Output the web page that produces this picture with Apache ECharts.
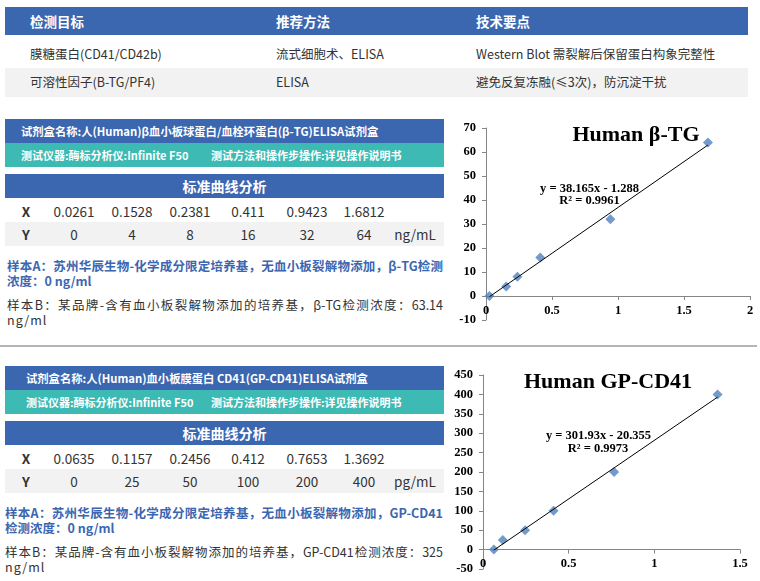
<!DOCTYPE html>
<html>
<head>
<meta charset="utf-8">
<script src="https://cdn.jsdelivr.net/npm/echarts@6/dist/echarts.min.js"></script>
<style>
  body { margin: 0; width: 760px; height: 581px; position: relative; overflow: hidden; background: #fff;
         font-family: "Noto Sans CJK SC", "Noto Sans", sans-serif; color: #333; }
  .abs { position: absolute; white-space: nowrap; }
  .cell { position: absolute; transform: translateX(-50%); white-space: nowrap; font-size: 13.5px; color: #333; }
  .line { position: absolute; white-space: nowrap; text-align: justify; text-align-last: justify; }
  #chart { position: absolute; left: 440px; top: 110px; width: 320px; height: 471px; }
</style>
</head>
<body>
<div id="page"></div>
<div id="chart"></div>
<script>
// 顶部表格
var topHead = ['检测目标', '推荐方法', '技术要点'];
var topRows = [
    ['膜糖蛋白(CD41/CD42b)', '流式细胞术、ELISA', 'Western Blot 需裂解后保留蛋白构象完整性'],
    ['可溶性因子(B-TG/PF4)', 'ELISA', '避免反复冻融(≤3次)，防沉淀干扰']
];

// β-TG 标准曲线
var tgX = [0.0261, 0.1528, 0.2381, 0.411, 0.9423, 1.6812];
var tgY = [0, 4, 8, 16, 32, 64];
var tgFit = [[0.0261, -0.3], [1.6812, 62.9]];   // 趋势线两端
var tgEq = ['y = 38.165x - 1.288', 'R² = 0.9961'];

// GP-CD41 标准曲线
var cdX = [0.0635, 0.1157, 0.2456, 0.412, 0.7653, 1.3692];
var cdY = [0, 25, 50, 100, 200, 400];
var cdFit = [[0.0635, -1.2], [1.3692, 393]];
var cdEq = ['y = 301.93x - 20.355', 'R² = 0.9973'];

var tgTicksY = {min: -10, max: 70, interval: 10};
var cdTicksY = {min: -50, max: 450, interval: 50};

var blue = '#3b66b0', teal = '#3dbab3', grey = '#f2f2f2';
var page = document.getElementById('page');
var html = '';

function box(l, t, w, h, bg) {
    return '<div class="abs" style="left:' + l + 'px;top:' + t + 'px;width:' + w + 'px;height:' + h + 'px;background:' + bg + '"></div>';
}
function text(l, cy, s, style) {
    return '<div class="abs" style="left:' + l + 'px;top:' + (cy - 10) + 'px;line-height:20px;' + (style || '') + '">' + s + '</div>';
}

// 顶部表格
var topCols = [30, 276, 476];
html += box(5, 7, 743, 28, blue);
topHead.forEach(function (h, i) {
    html += text(topCols[i], 21, h, 'color:#fff;font-weight:bold;font-size:13.5px');
});
html += box(5, 68, 743, 29, grey);
topRows.forEach(function (row, r) {
    row.forEach(function (c, i) {
        html += text(topCols[i], r === 0 ? 54 : 82, c, 'font-size:12.5px;color:#333');
    });
});

// 分隔线
html += box(0, 345, 757, 2, '#b5b5b5');

var colX = [26, 74, 132, 190, 248, 307, 364, 415];

function panel(top, left, tx, kit, xs, ys, unit, sampleA, sampleB) {
    var s = '';
    s += box(5, top, 439, 24, blue);
    s += text(tx, top + 12, kit, 'color:#fff;font-weight:bold;font-size:11.3px');
    s += box(5, top + 24, 439, 24, teal);
    s += text(tx, top + 36, '测试仪器:酶标分析仪:Infinite F50', 'color:#fff;font-weight:bold;font-size:11px');
    s += text(211, top + 36, '测试方法和操作步操作:详见操作说明书', 'color:#fff;font-weight:bold;font-size:11px');
    s += box(5, top + 55, 439, 24, blue);
    s += '<div class="abs" style="left:5px;width:439px;text-align:center;top:' + (top + 57) + 'px;line-height:20px;color:#fff;font-weight:bold;font-size:14px">标准曲线分析</div>';
    s += box(5, top + 103, 439, 24, grey);
    var rx = ['X'].concat(xs.map(String)).concat(['']);
    var ry = ['Y'].concat(ys.map(String)).concat([unit]);
    rx.forEach(function (v, i) {
        s += '<div class="cell" style="left:' + colX[i] + 'px;top:' + (top + 82) + 'px;line-height:20px;' + (i === 0 ? 'font-weight:bold' : '') + '">' + v + '</div>';
    });
    ry.forEach(function (v, i) {
        s += '<div class="cell" style="left:' + colX[i] + 'px;top:' + (top + 105) + 'px;line-height:20px;' + (i === 0 ? 'font-weight:bold' : '') + '">' + v + '</div>';
    });
    var aStyle = 'color:' + blue + ';font-weight:bold;font-size:12.5px;';
    var bStyle = 'color:#333;font-size:12.5px;';
    s += '<div class="line" style="left:' + left + 'px;width:' + (443 - left) + 'px;top:' + (top + 139) + 'px;line-height:16px;' + aStyle + '">' + sampleA[0] + '</div>';
    s += '<div class="abs" style="left:' + left + 'px;top:' + (top + 154) + 'px;line-height:16px;' + aStyle + '">' + sampleA[1] + '</div>';
    s += '<div class="line" style="left:' + left + 'px;width:' + (443 - left) + 'px;top:' + (top + 178) + 'px;line-height:16px;' + bStyle + '">' + sampleB[0] + '</div>';
    s += '<div class="abs" style="left:' + left + 'px;top:' + (top + 193) + 'px;line-height:16px;' + bStyle + 'letter-spacing:1px">' + sampleB[1] + '</div>';
    return s;
}

html += panel(119, 7, 21, '试剂盒名称:人(Human)β血小板球蛋白/血栓环蛋白(β-TG)ELISA试剂盒', tgX, tgY, 'ng/mL',
    ['样本A：苏州华辰生物-化学成分限定培养基，无血小板裂解物添加，β-TG检测', '浓度：0 ng/ml'],
    ['样本B：某品牌-含有血小板裂解物添加的培养基，β-TG检测浓度：63.14', 'ng/ml']);
html += panel(366, 5, 26, '试剂盒名称:人(Human)血小板膜蛋白 CD41(GP-CD41)ELISA试剂盒', cdX, cdY, 'pg/mL',
    ['样本A：苏州华辰生物-化学成分限定培养基，无血小板裂解物添加，GP-CD41', '检测浓度：0 ng/ml'],
    ['样本B：某品牌-含有血小板裂解物添加的培养基，GP-CD41检测浓度：325', 'ng/ml']);
page.innerHTML = html;

// 图表
var serif = 'Liberation Serif';
var axisLabel = {color: '#000', fontFamily: serif, fontWeight: 'bold', fontSize: 12.5};
var lineStyle = {color: '#868686', width: 1};
var axisTick = {show: true, length: 4, lineStyle: {color: '#868686'}};

var grids = [
    {left: 46, top: 18, width: 264, height: 192},
    {left: 43, top: 265, width: 257, height: 194}
];

function pairs(xs, ys) {
    return xs.map(function (x, i) { return [x, ys[i]]; });
}
// x 轴放在 y=0 处（含刻度标签），用 offset 上移
function xAxis(idx, max, t) {
    var shift = grids[idx].height * (0 - t.min) / (t.max - t.min);
    return {
        type: 'value', gridIndex: idx, min: 0, max: max, interval: 0.5,
        position: 'bottom', offset: -shift,
        axisLine: {show: true, onZero: false, lineStyle: lineStyle},
        axisTick: axisTick, splitLine: {show: false},
        axisLabel: Object.assign({margin: 8}, axisLabel)
    };
}
function yAxis(idx, t) {
    return {
        type: 'value', gridIndex: idx, min: t.min, max: t.max, interval: t.interval,
        axisLine: {show: true, onZero: false, lineStyle: lineStyle},
        axisTick: axisTick, splitLine: {show: false},
        axisLabel: Object.assign({margin: 10}, axisLabel)
    };
}
function eqText(x, y, s) {
    return {
        type: 'text', x: x, y: y,
        style: {text: s, fill: '#000', font: 'bold 12.5px "Liberation Serif"', textAlign: 'center', textVerticalAlign: 'middle'}
    };
}

var myChart = echarts.init(document.getElementById('chart'));
myChart.setOption({
    animation: false,
    grid: grids,
    xAxis: [xAxis(0, 2, tgTicksY), xAxis(1, 1.5, cdTicksY)],
    yAxis: [yAxis(0, tgTicksY), yAxis(1, cdTicksY)],
    series: [
        {type: 'line', xAxisIndex: 0, yAxisIndex: 0, data: tgFit, symbol: 'none',
            lineStyle: {color: '#000', width: 1}, z: 3},
        {type: 'scatter', xAxisIndex: 0, yAxisIndex: 0, data: pairs(tgX, tgY), symbol: 'diamond',
            symbolSize: 10, itemStyle: {color: '#4f81bd'}, z: 2},
        {type: 'line', xAxisIndex: 1, yAxisIndex: 1, data: cdFit, symbol: 'none',
            lineStyle: {color: '#000', width: 1}, z: 3},
        {type: 'scatter', xAxisIndex: 1, yAxisIndex: 1, data: pairs(cdX, cdY), symbol: 'diamond',
            symbolSize: 10, itemStyle: {color: '#4f81bd'}, z: 2}
    ],
    graphic: [
        {type: 'text', x: 196, y: 25, style: {text: 'Human β-TG', fill: '#000', font: 'bold 22px "Liberation Serif"', textAlign: 'center', textVerticalAlign: 'middle'}},
        eqText(149.5, 79, tgEq[0]),
        eqText(149.5, 91, tgEq[1]),
        {type: 'text', x: 168, y: 272, style: {text: 'Human GP-CD41', fill: '#000', font: 'bold 22px "Liberation Serif"', textAlign: 'center', textVerticalAlign: 'middle'}},
        eqText(158.5, 326, cdEq[0]),
        eqText(158, 339, cdEq[1])
    ]
});
</script>
</body>
</html>
